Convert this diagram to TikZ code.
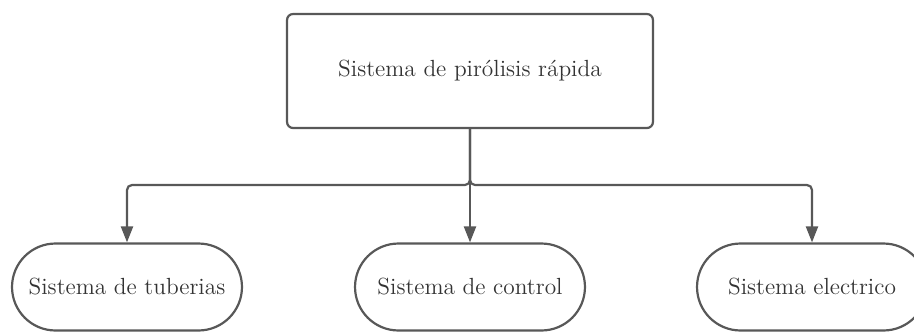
\documentclass[tikz,border=0pt]{standalone}
\usepackage{tikz}
\usetikzlibrary{arrows.meta,positioning}
\definecolor{linegray}{HTML}{585858}
\definecolor{textgray}{HTML}{333333}

\begin{document}
\begin{tikzpicture}[x=0.02cm,y=-0.02cm,>={Triangle[width=0.24cm,length=0.32cm]}]
    \tikzset{block/.style= {draw=linegray, line width=1.25pt, rectangle, rounded corners=0.12cm, align=center, minimum width=7.32cm, minimum height=2.28cm, text=textgray, font=\fontsize{13.3}{16}\selectfont},
    rblock/.style={draw=linegray, line width=1.25pt, shape=rectangle, rounded corners=0.87cm, align=center, minimum width=4.6cm, minimum height=1.74cm, text=textgray, font=\fontsize{13.3}{16}\selectfont},
    }
    \useasboundingbox (0,0) rectangle (914,332);
    \node [block] (main) at (470,71) {Sistema de pirólisis rápida};
    \node [rblock] (pipes) at (127,287) {Sistema de tuberias};
    \node [rblock] (control) at (470,287) {Sistema de control};
    \node [rblock] (power) at (812,287) {Sistema electrico};
    %% branching point under the main block
    \coordinate (bus) at (470,185);

% paths
    \draw[->, draw=linegray, line width=1.25pt] (main) -- (control);
    \draw[->, draw=linegray, line width=1.25pt, rounded corners=0.1cm] (main.south) -- (bus) -| (pipes.north);
    \draw[->, draw=linegray, line width=1.25pt, rounded corners=0.1cm] (main.south) -- (bus) -| (power.north);
\end{tikzpicture}
\end{document}
